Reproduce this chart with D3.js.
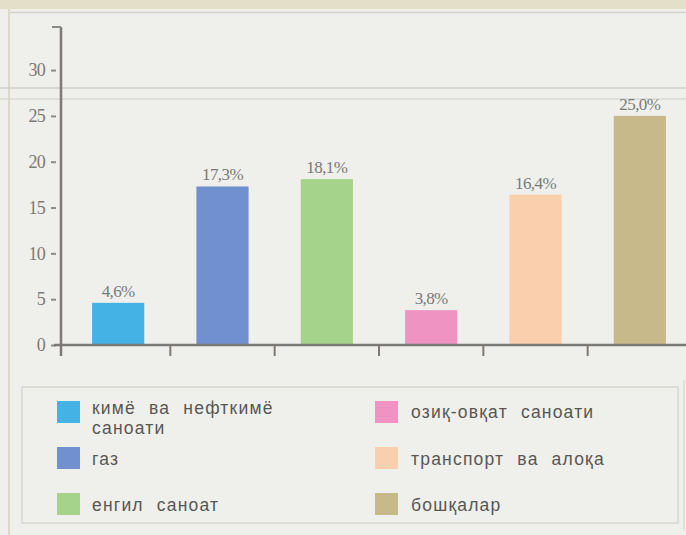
<!DOCTYPE html>
<html>
<head>
<meta charset="utf-8">
<script src="https://cdn.jsdelivr.net/npm/d3@7"></script>
<style>
  html, body { margin: 0; padding: 0; background: #efefeb; }
  svg { display: block; }
</style>
</head>
<body>
<script>
const categories = ["кимё ва нефткимё саноати", "газ", "енгил саноат", "озиқ-овқат саноати", "транспорт ва алоқа", "бошқалар"];
const values = [4.6, 17.3, 18.1, 3.8, 16.4, 25.0];
const valueLabels = ["4,6%", "17,3%", "18,1%", "3,8%", "16,4%", "25,0%"];
const colors = ["#45b2e6", "#7090cf", "#a6d38c", "#ef93c3", "#f9cfae", "#c8b98a"];
const yTicks = [0, 5, 10, 15, 20, 25, 30];
const legendLines = [["кимё ва нефткимё", "саноати"], ["газ"], ["енгил саноат"], ["озиқ-овқат саноати"], ["транспорт ва алоқа"], ["бошқалар"]];

const W = 686, H = 535;
const svg = d3.select("body").append("svg").attr("width", W).attr("height", H);

// page background and scan artifacts
svg.append("rect").attr("width", W).attr("height", H).attr("fill", "#efefeb");
svg.append("rect").attr("x", 0).attr("y", 0).attr("width", W).attr("height", 9).attr("fill", "#e3dfc9");
svg.append("line").attr("x1", 10).attr("x2", W).attr("y1", 12.5).attr("y2", 12.5).attr("stroke", "#d4d2c6").attr("stroke-width", 1.5);
svg.append("line").attr("x1", 9).attr("x2", 9).attr("y1", 9).attr("y2", H).attr("stroke", "#dcd9c8").attr("stroke-width", 2);
svg.append("line").attr("x1", 0).attr("x2", W).attr("y1", 88).attr("y2", 88).attr("stroke", "#cfcfca").attr("stroke-width", 1.5);
svg.append("line").attr("x1", 0).attr("x2", W).attr("y1", 99).attr("y2", 99).attr("stroke", "#d9d9d4").attr("stroke-width", 1.5);

const x = d3.scaleBand().domain(categories).range([66, 692]).paddingInner(0.5).paddingOuter(0.25);
const y = d3.scaleLinear().domain([0, 34.7]).range([345, 27]);

// bars
svg.append("g").selectAll("rect").data(categories).join("rect")
  .attr("x", d => x(d))
  .attr("width", x.bandwidth())
  .attr("y", (d, i) => y(values[i]))
  .attr("height", (d, i) => y(0) - y(values[i]))
  .attr("fill", (d, i) => colors[i]);

// value labels
svg.append("g").selectAll("text").data(categories).join("text")
  .attr("x", d => x(d) + x.bandwidth() / 2)
  .attr("y", (d, i) => y(values[i]) - 6)
  .attr("text-anchor", "middle")
  .attr("font-family", "Liberation Serif, serif")
  .attr("font-size", 17)
  .attr("letter-spacing", "-0.6px")
  .attr("fill", "#7a7a7a")
  .text((d, i) => valueLabels[i]);

// y axis
const yAxis = svg.append("g").attr("transform", "translate(61,0)")
  .call(d3.axisLeft(y).tickValues(yTicks).tickSize(9).tickPadding(8));
yAxis.select(".domain").remove();
yAxis.selectAll(".tick line").attr("x1", -10).attr("x2", -5).attr("stroke", "#8a8a8a").attr("stroke-width", 2);
yAxis.selectAll(".tick text")
  .attr("x", -16)
  .attr("font-family", "Liberation Serif, serif")
  .attr("font-size", 18)
  .attr("letter-spacing", "-0.8px")
  .attr("fill", "#7a7a7a");
svg.append("line").attr("x1", 61).attr("x2", 61).attr("y1", y.range()[1]).attr("y2", 356)
  .attr("stroke", "#7c7a74").attr("stroke-width", 2.5);
svg.append("line").attr("x1", 52).attr("x2", 61).attr("y1", y.range()[1]).attr("y2", y.range()[1])
  .attr("stroke", "#8a8a8a").attr("stroke-width", 2);

// x axis
svg.append("line").attr("x1", 54).attr("x2", W).attr("y1", y(0)).attr("y2", y(0))
  .attr("stroke", "#7c7a74").attr("stroke-width", 2.5);
const bounds = categories.map(d => x(d) + x.bandwidth() / 2 - x.step() / 2).slice(1);
svg.append("g").selectAll("line").data(bounds).join("line")
  .attr("x1", d => d).attr("x2", d => d)
  .attr("y1", y(0)).attr("y2", y(0) + 11)
  .attr("stroke", "#7c7a74").attr("stroke-width", 2);

// legend box
svg.append("rect").attr("x", 22).attr("y", 387).attr("width", 656).attr("height", 136)
  .attr("fill", "none").attr("stroke", "#d8d7cf").attr("stroke-width", 1.5);
svg.append("line").attr("x1", 684).attr("x2", 684).attr("y1", 380).attr("y2", 530).attr("stroke", "#dedcd0").attr("stroke-width", 1.5);

const legendPos = [
  {sx: 57, sy: 401, tx: 92, ty: 414},
  {sx: 57, sy: 447, tx: 92, ty: 465},
  {sx: 57, sy: 493, tx: 92, ty: 511},
  {sx: 375, sy: 401, tx: 411, ty: 418},
  {sx: 375, sy: 447, tx: 411, ty: 465},
  {sx: 375, sy: 493, tx: 411, ty: 511}
];
const lg = svg.append("g").selectAll("g").data(categories).join("g");
lg.append("rect")
  .attr("x", (d, i) => legendPos[i].sx).attr("y", (d, i) => legendPos[i].sy)
  .attr("width", 23).attr("height", 22)
  .attr("fill", (d, i) => colors[i]);
lg.each(function(d, i) {
  const t = d3.select(this).append("text")
    .attr("x", legendPos[i].tx).attr("y", legendPos[i].ty)
    .attr("font-family", "Liberation Sans, Arial, sans-serif")
    .attr("font-size", 17.5)
    .attr("letter-spacing", "1.2px")
    .attr("word-spacing", "7px")
    .attr("fill", "#575755");
  legendLines[i].forEach((ln, j) => {
    t.append("tspan").attr("x", legendPos[i].tx).attr("dy", j === 0 ? 0 : 20).text(ln);
  });
});
</script>
</body>
</html>
